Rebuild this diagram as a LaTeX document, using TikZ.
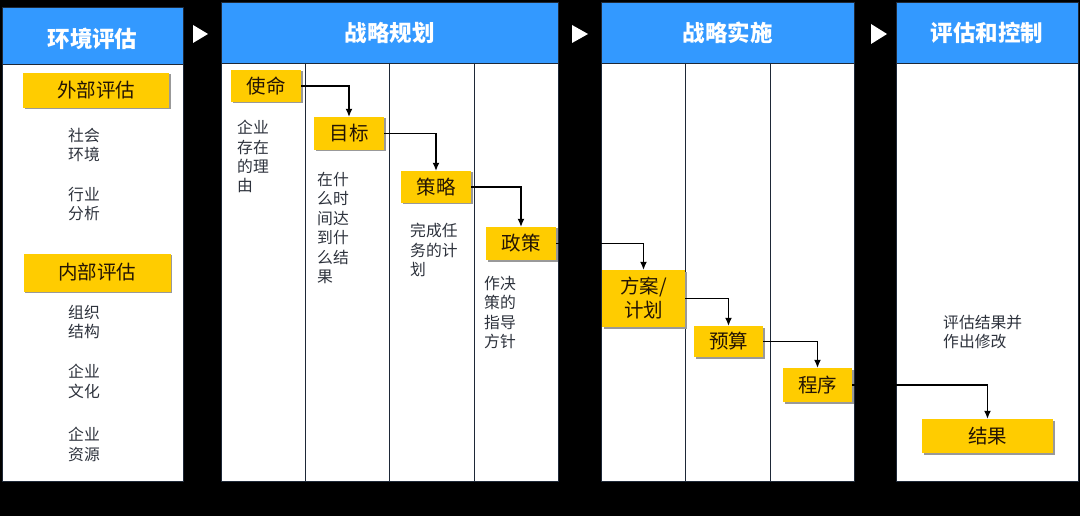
\documentclass[tikz,border=0pt]{standalone}
\usepackage{fontspec}
\setmainfont{Noto Sans CJK SC}
\usetikzlibrary{arrows.meta,shadows}
\definecolor{hblue}{RGB}{51,153,255}
\definecolor{yfill}{RGB}{255,204,0}
\definecolor{edge}{RGB}{30,40,55}
\definecolor{btxt}{RGB}{45,50,60}
\definecolor{ytxt}{RGB}{35,20,5}
\begin{document}
\begin{tikzpicture}[x=1pt,y=-1pt,
  panel/.style={draw=edge,fill=white,line width=0.8pt},
  header/.style={draw=edge,fill=hblue,line width=0.8pt},
  ybox/.style={fill=yfill,drop shadow={shadow xshift=1.5pt,shadow yshift=-1.5pt,fill=black!40,opacity=1},
    inner sep=0pt,font=\fontsize{19.5}{22}\selectfont,text=ytxt,align=center},
  bodytxt/.style={anchor=north west,inner sep=0pt,align=left,font=\fontsize{15.8}{19.4}\selectfont,text=btxt},
  htxt/.style={text=white,font=\fontsize{22.5}{25}\selectfont\bfseries},
  conn/.style={draw=black,line width=1.2pt,-{Latex[length=8pt,width=7pt]}},
  tri/.style={fill=white}]
% background
\fill[black] (0,0) rectangle (1080,516);
% panel 1
\draw[panel] (2,64) rectangle (183,481);
\draw[header] (2,7) rectangle (183,64);
% panel 2
\draw[panel] (221,63) rectangle (558,481);
\draw[header] (221,2) rectangle (558,63);
\draw[edge,line width=0.8pt] (305,63) -- (305,481) (389,63) -- (389,481) (474,63) -- (474,481);
% panel 3
\draw[panel] (601,63) rectangle (854,481);
\draw[header] (601,2) rectangle (854,63);
\draw[edge,line width=0.8pt] (685,63) -- (685,481) (770,63) -- (770,481);
% panel 4
\draw[panel] (896,63) rectangle (1078,481);
\draw[header] (896,2) rectangle (1078,63);
% triangles
\fill[tri] (193,25) -- (208,34) -- (193,43) -- cycle;
\fill[tri] (572,25) -- (588,34) -- (572,43) -- cycle;
\fill[tri] (871,24) -- (887,34) -- (871,44) -- cycle;
% header texts
\node[htxt] (h1) at (92.5,38.5) {环境评估};
\node[htxt] (h2) at (389.5,32.5) {战略规划};
\node[htxt] (h3) at (727.5,32.5) {战略实施};
\node[htxt] (h4) at (987,32.5) {评估和控制};
% yellow boxes
\node[ybox,minimum width=146pt,minimum height=35pt] (wb) at (96,90.5) {外部评估};
\node[ybox,minimum width=147pt,minimum height=38pt] (nb) at (97,272.5) {内部评估};
\node[ybox,minimum width=70pt,minimum height=32pt] (sm) at (266,86) {使命};
\node[ybox,minimum width=70pt,minimum height=33pt] (mb) at (349,133.5) {目标};
\node[ybox,minimum width=70pt,minimum height=32pt] (cl) at (436,187) {策略};
\node[ybox,minimum width=70pt,minimum height=33pt] (zc) at (521,243.5) {政策};
\node[ybox,minimum width=83pt,minimum height=57pt,font=\fontsize{19.5}{24}\selectfont] (fa) at (643.5,298.5) {方案/\\计划};
\node[ybox,minimum width=69pt,minimum height=31pt] (ys) at (728.5,341.5) {预算};
\node[ybox,minimum width=69pt,minimum height=34pt] (cx) at (817.5,385) {程序};
\node[ybox,minimum width=131pt,minimum height=34pt] (jg) at (987.5,436) {结果};
% body texts
\node[bodytxt] (t1) at (68,128) {社会\\环境};
\node[bodytxt] (t2) at (68,187) {行业\\分析};
\node[bodytxt] (t3) at (68,305) {组织\\结构};
\node[bodytxt] (t4) at (68,364) {企业\\文化};
\node[bodytxt] (t5) at (68,427) {企业\\资源};
\node[bodytxt] (t6) at (237,120) {企业\\存在\\的理\\由};
\node[bodytxt] (t7) at (317,172) {在什\\么时\\间达\\到什\\么结\\果};
\node[bodytxt] (t8) at (410,223) {完成任\\务的计\\划};
\node[bodytxt] (t9) at (484,276) {作决\\策的\\指导\\方针};
\node[bodytxt] (t10) at (943,315) {评估结果并\\作出修改};
% connectors
\draw[conn] (sm.east) -| (mb.north);
\draw[conn] (mb.east) -| (cl.north);
\draw[conn] (cl.east) -| (zc.north);
\draw[conn] (zc.east) -| (fa.north);
\draw[conn] (fa.east) -| (ys.north);
\draw[conn] (ys.east) -| (cx.north);
\draw[conn] (cx.east) -| (jg.north);
\end{tikzpicture}
\end{document}
